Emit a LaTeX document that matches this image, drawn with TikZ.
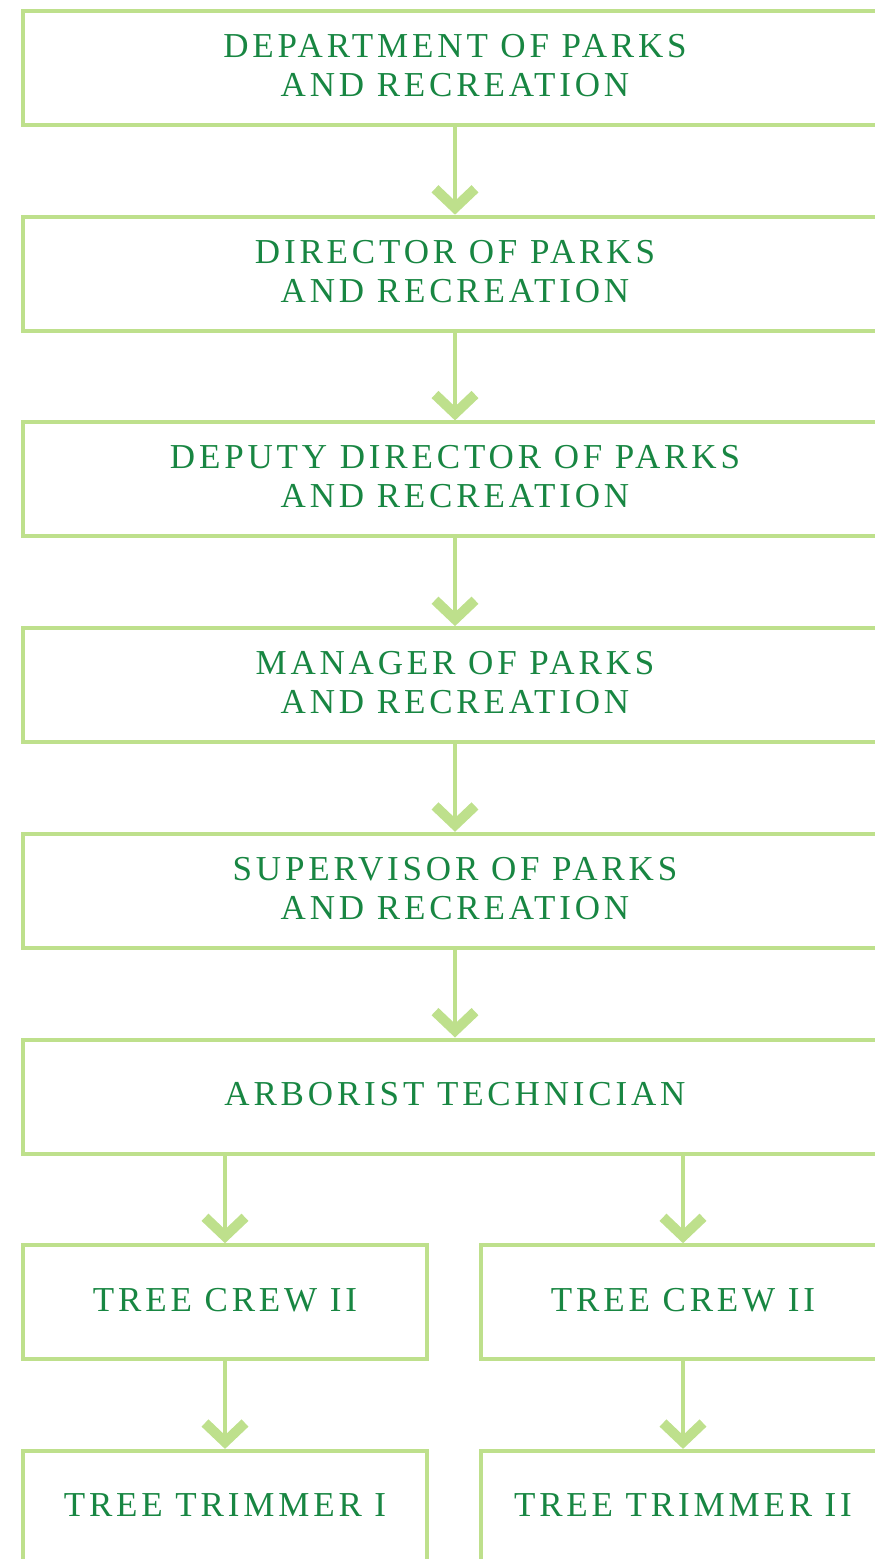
\documentclass[tikz,border=0pt]{standalone}
\usepackage{fontspec}
\setmainfont{Liberation Serif}[LetterSpace=11]
\usetikzlibrary{arrows.meta}
\definecolor{boxgreen}{RGB}{190,224,140}
\definecolor{txtgreen}{RGB}{24,134,66}
\begin{document}
\begin{tikzpicture}[x=1pt,y=-1pt,
  box/.style={draw=boxgreen, line width=4pt, minimum width=864pt, minimum height=114pt,
    inner sep=0pt, text=txtgreen, font=\fontsize{35}{39}\selectfont, align=center,
    text depth=5pt},
  smallbox/.style={box, minimum width=404pt},
  conn/.style={draw=boxgreen, line width=3.5pt,
    -{Straight Barb[length=19pt,width=40pt,line width'=10pt]}}]
\useasboundingbox (0,0) rectangle (875,1559);
\clip (0,0) rectangle (875,1559);
\node[box] (b1) at (455,68)    {DEPARTMENT OF PARKS\\AND RECREATION};
\node[box] (b2) at (455,273.7) {DIRECTOR OF PARKS\\AND RECREATION};
\node[box] (b3) at (455,479.4) {DEPUTY DIRECTOR OF PARKS\\AND RECREATION};
\node[box] (b4) at (455,685.1) {MANAGER OF PARKS\\AND RECREATION};
\node[box] (b5) at (455,890.8) {SUPERVISOR OF PARKS\\AND RECREATION};
\node[box] (b6) at (455,1096.5) {ARBORIST TECHNICIAN};
\node[smallbox] (c1) at (225,1302.2) {TREE CREW II};
\node[smallbox] (c2) at (683,1302.2) {TREE CREW II};
\node[smallbox] (t1) at (225,1507.9) {TREE TRIMMER I};
\node[smallbox] (t2) at (683,1507.9) {TREE TRIMMER II};
\draw[conn] (b1) -- (b2);
\draw[conn] (b2) -- (b3);
\draw[conn] (b3) -- (b4);
\draw[conn] (b4) -- (b5);
\draw[conn] (b5) -- (b6);
\draw[conn] (c1.north |- b6.south) -- (c1.north);
\draw[conn] (c2.north |- b6.south) -- (c2.north);
\draw[conn] (c1) -- (t1);
\draw[conn] (c2) -- (t2);
\end{tikzpicture}
\end{document}
